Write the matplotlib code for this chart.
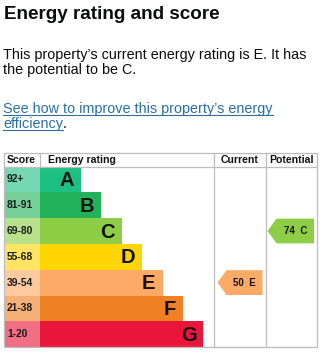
import matplotlib
matplotlib.use("Agg")
import matplotlib.pyplot as plt
from matplotlib.patches import Polygon, Rectangle
from matplotlib.colors import to_rgb

plt.rcParams["font.family"] = ["Liberation Sans", "DejaVu Sans"]

# data
bands = ["A", "B", "C", "D", "E", "F", "G"]
score_ranges = ["92+", "81-91", "69-80", "55-68", "39-54", "21-38", "1-20"]
band_colors = ["#1dbf82", "#22b35a", "#8dce46", "#ffd500", "#fcaa65", "#ef8023", "#e9153b"]
current_score, current_band = 50, "E"
potential_score, potential_band = 74, "C"

W, H = 323, 352
fig = plt.figure(figsize=(W / 100, H / 100), dpi=100)
ax = fig.add_axes([0, 0, 1, 1])
ax.set_xlim(0, W)
ax.set_ylim(H, 0)
ax.axis("off")

# heading and text
ax.text(4, 19, "Energy rating and score", fontsize=13.6, fontweight="bold",
        va="baseline", color="#0b0c0c")
ax.text(3, 59, f"This property\u2019s current energy rating is {current_band}. It has",
        fontsize=10.4, va="baseline", color="#0b0c0c")
ax.text(3, 74, f"the potential to be {potential_band}.", fontsize=10.4,
        va="baseline", color="#0b0c0c")

link_col = "#2a6fa8"
l1 = ax.text(3, 113, "See how to improve this property\u2019s energy", fontsize=10.4,
             va="baseline", color=link_col)
l2 = ax.text(3, 128, "efficiency", fontsize=10.4, va="baseline", color=link_col)
fig.canvas.draw()
inv = ax.transData.inverted()
for t, yb in [(l1, 113), (l2, 128)]:
    bb = t.get_window_extent()
    x0 = inv.transform((bb.x0, 0))[0]
    x1 = inv.transform((bb.x1, 0))[0]
    ax.plot([x0, x1], [yb + 2, yb + 2], color=link_col, lw=0.8)
    end_x = x1
ax.text(end_x, 128, ".", fontsize=10.4, va="baseline", color="#0b0c0c")

# table geometry
left, right = 4, 317
top, head_h = 153, 13.5
row_h = 25.8
score_r, rating_r, current_r = 40, 213.5, 265.5
bottom = top + head_h + row_h * len(bands)
grid = "#bdbdbd"


def lighten(c, a=0.62):
    r, g, b = to_rgb(c)
    return (1 - a + a * r, 1 - a + a * g, 1 - a + a * b)


ys = [top + head_h + row_h * (i + 0.5) for i in range(len(bands))]
lengths = [41 + 20.4 * i for i in range(len(bands))]
ax.barh(ys, [score_r - left] * len(bands), left=left, height=row_h,
        color=[lighten(c) for c in band_colors], linewidth=0)
ax.barh(ys, lengths, left=score_r, height=row_h, color=band_colors, linewidth=0)

for y, lab, b, ln in zip(ys, score_ranges, bands, lengths):
    ax.text(7, y, lab, fontsize=7.4, fontweight="bold", va="center", color="#1a1a1a")
    ax.text(score_r + ln - 7, y + 1, b, fontsize=14.5, fontweight="bold",
            va="center", ha="right", color="#111111")

# grid lines
ax.add_patch(Rectangle((left, top), right - left, bottom - top, fill=False,
                       edgecolor=grid, lw=0.9))
ax.plot([left, right], [top + head_h, top + head_h], color=grid, lw=0.9)
for x in (score_r, rating_r, current_r):
    ax.plot([x, x], [top, bottom if x != score_r else top + head_h], color=grid, lw=0.9)

hy = top + head_h / 2 + 0.5
ax.text(7, hy, "Score", fontsize=7.6, fontweight="bold", va="center", color="#111111")
ax.text(47.5, hy, "Energy rating", fontsize=7.6, fontweight="bold", va="center", color="#111111")
ax.text((rating_r + current_r) / 2, hy, "Current", fontsize=7.6, fontweight="bold",
        va="center", ha="center", color="#111111")
ax.text((current_r + right) / 2, hy, "Potential", fontsize=7.6, fontweight="bold",
        va="center", ha="center", color="#111111")


def band_of(score):
    lows = [92, 81, 69, 55, 39, 21, 1]
    for i, lo in enumerate(lows):
        if score >= lo:
            return i
    return len(lows) - 1


def arrow(x0, x1, score, band):
    i = band_of(score)
    y = ys[i]
    h = row_h - 1
    pts = [(x0, y), (x0 + 9, y - h / 2), (x1, y - h / 2), (x1, y + h / 2), (x0 + 9, y + h / 2)]
    ax.add_patch(Polygon(pts, closed=True, facecolor=band_colors[i], edgecolor="none"))
    ax.text((x0 + 9 + x1) / 2, y + 0.5, f"{score}  {band}", fontsize=7,
            fontweight="bold", va="center", ha="center", color="#111111")


arrow(217.5, 262.5, current_score, current_band)
arrow(267.5, 314, potential_score, potential_band)

fig.savefig("out.png", dpi=100, facecolor="white")
